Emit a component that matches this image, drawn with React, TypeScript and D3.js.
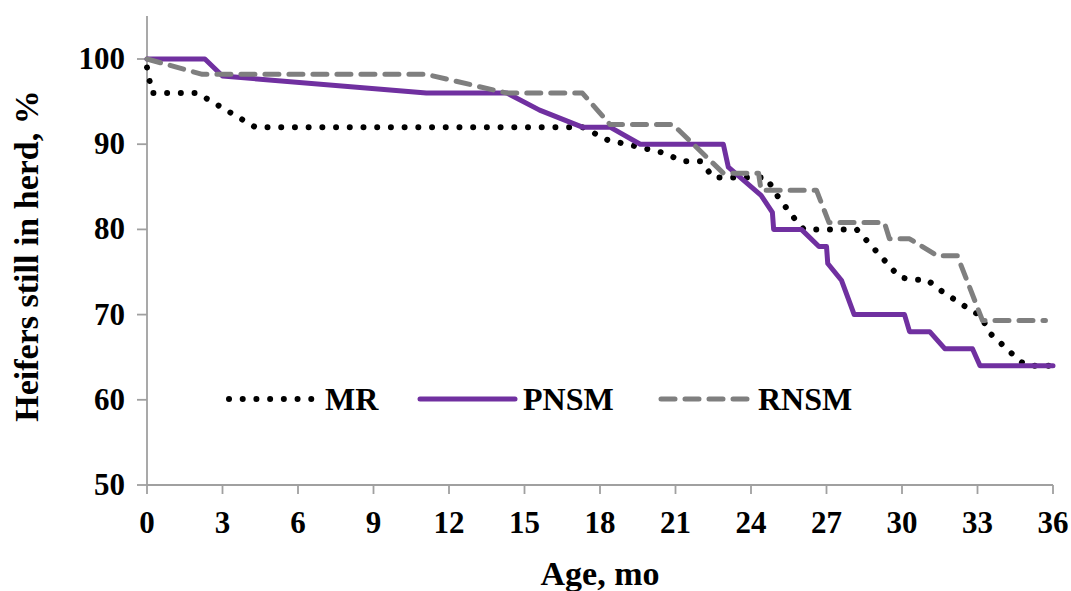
import React from 'react';
import * as d3 from 'd3';

// ---- Data ----
const mrAge = [0, 0.2, 2.0, 4.3, 17.3, 18.3, 19.5, 20.5, 21.3, 22.0, 22.5, 24.6, 25.1, 25.8, 26.1, 28.2, 29.9, 30.4, 31.0, 31.4, 32.9, 33.1, 33.5, 34.7, 35.0, 36];
const mrPct = [99, 96, 96, 92, 92, 90.5, 89.7, 89, 88, 88, 86.1, 86.1, 83.7, 81, 80, 80, 74.4, 74.1, 74.1, 73.1, 70.2, 70, 67.8, 64.5, 64, 64];

const pnsmAge = [0, 2.3, 3.0, 11.1, 14.3, 15.6, 17.3, 18.4, 19.6, 22.9, 23.1, 24.4, 24.85, 24.9, 26.0, 26.7, 27.0, 27.05, 27.6, 28.1, 30.1, 30.3, 31.1, 31.7, 32.8, 33.1, 36];
const pnsmPct = [100, 100, 98, 96, 96, 94, 92, 92, 90, 90, 87.3, 84, 82, 80, 80, 78, 78, 76, 74, 70, 70, 68, 68, 66, 66, 64, 64];

const rnsmAge = [0, 2.2, 11.1, 14.3, 17.3, 18.4, 20.9, 22.9, 24.3, 24.4, 26.6, 27.1, 29.3, 29.5, 30.3, 31.4, 32.2, 33.2, 35.7];
const rnsmPct = [100, 98.2, 98.2, 96, 96, 92.3, 92.3, 86.6, 86.6, 84.6, 84.6, 80.8, 80.8, 78.9, 78.9, 76.9, 76.9, 69.3, 69.3];

const xTicks = [0, 3, 6, 9, 12, 15, 18, 21, 24, 27, 30, 33, 36];
const yTicks = [50, 60, 70, 80, 90, 100];
const seriesNames = ['MR', 'PNSM', 'RNSM'];

const W = 1071;
const H = 591;
const FONT = '"Liberation Serif", "Times New Roman", serif';

const x = d3.scaleLinear().domain([0, 36]).range([147, 1053]);
const y = d3.scaleLinear().domain([50, 100]).range([485, 59]);

const lineGen = d3.line<[number, number]>().x(d => x(d[0])).y(d => y(d[1]));
const zip = (a: number[], b: number[]) => a.map((v, i) => [v, b[i]] as [number, number]);

const styles = [
  { stroke: '#000000', width: 6, dash: '0.01 13.7', cap: 'round' },
  { stroke: '#7030a0', width: 5, dash: undefined, cap: 'round' },
  { stroke: '#7f7f7f', width: 5, dash: '14 10', cap: 'round' },
];

const seriesData = [zip(mrAge, mrPct), zip(pnsmAge, pnsmPct), zip(rnsmAge, rnsmPct)];

const legendSample = [
  [229, 316],
  [420, 515],
  [661, 752],
];
const legendText = [325, 523, 758];

export default function App() {
  const axisColor = '#a0a0a0';
  return (
    <svg width={W} height={H} style={{ position: 'absolute', left: 0, top: 0, background: '#fff' }}>
      <rect x={0} y={0} width={W} height={H} fill="#fff" />
      {/* axes */}
      <line x1={x(0)} x2={x(0)} y1={16} y2={y(50)} stroke={axisColor} strokeWidth={1.8} />
      <line x1={x(0)} x2={x(36)} y1={y(50)} y2={y(50)} stroke={axisColor} strokeWidth={1.8} />
      {yTicks.map(t => (
        <g key={'y' + t}>
          <line x1={x(0) - 10} x2={x(0)} y1={y(t)} y2={y(t)} stroke={axisColor} strokeWidth={1.8} />
          <text x={125} y={y(t) + 10} textAnchor="end" fontFamily={FONT} fontWeight="bold" fontSize={31} fill="#000">
            {t}
          </text>
        </g>
      ))}
      {xTicks.map(t => (
        <g key={'x' + t}>
          <line x1={x(t)} x2={x(t)} y1={y(50)} y2={y(50) + 9} stroke={axisColor} strokeWidth={1.8} />
          <text x={x(t)} y={533} textAnchor="middle" fontFamily={FONT} fontWeight="bold" fontSize={31} fill="#000">
            {t}
          </text>
        </g>
      ))}
      {/* axis titles */}
      <text
        transform={`translate(38, 256) rotate(-90)`}
        textAnchor="middle"
        fontFamily={FONT}
        fontWeight="bold"
        fontSize={34}
        fill="#000"
      >
        Heifers still in herd, %
      </text>
      <text x={600} y={585} textAnchor="middle" fontFamily={FONT} fontWeight="bold" fontSize={34} fill="#000">
        Age, mo
      </text>
      {/* series */}
      {seriesData.map((d, i) => (
        <path
          key={'s' + i}
          d={lineGen(d) || ''}
          fill="none"
          stroke={styles[i].stroke}
          strokeWidth={styles[i].width}
          strokeDasharray={styles[i].dash}
          strokeLinecap={styles[i].cap as any}
          strokeLinejoin="round"
        />
      ))}
      {/* legend */}
      {seriesNames.map((name, i) => (
        <g key={'l' + i}>
          <line
            x1={legendSample[i][0]}
            x2={legendSample[i][1]}
            y1={399}
            y2={399}
            stroke={styles[i].stroke}
            strokeWidth={styles[i].width}
            strokeDasharray={styles[i].dash}
            strokeLinecap={styles[i].cap as any}
          />
          <text x={legendText[i]} y={410} fontFamily={FONT} fontWeight="bold" fontSize={32} fill="#000">
            {name}
          </text>
        </g>
      ))}
    </svg>
  );
}
